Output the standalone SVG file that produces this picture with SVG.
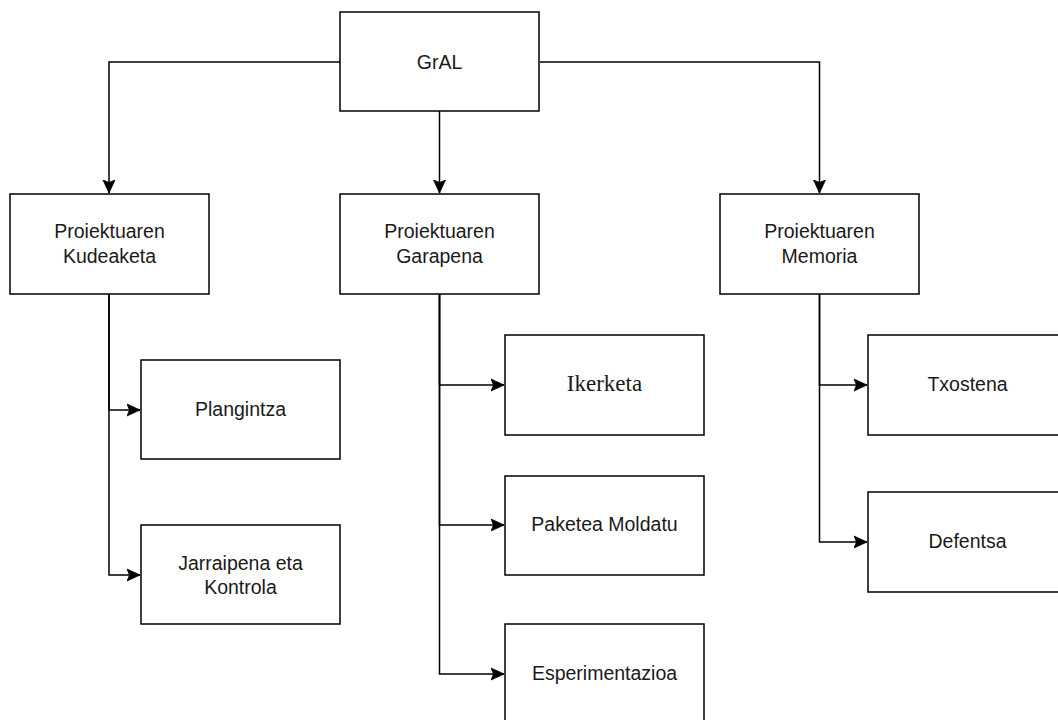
<svg xmlns="http://www.w3.org/2000/svg" width="1058" height="720" viewBox="0 0 1058 720">
<style>
.box{fill:#fff;stroke:#000;stroke-width:1.5}
.t{font-family:"Liberation Sans",Arial,sans-serif;font-size:19.5px;fill:#1a1a1a;text-anchor:middle}
.s{font-family:"Liberation Serif","Times New Roman",serif;font-size:23px;fill:#1a1a1a;text-anchor:middle}
.c{fill:none;stroke:#000;stroke-width:1.5}
</style>
<defs>
<marker id="arr" markerUnits="userSpaceOnUse" markerWidth="14" markerHeight="14" viewBox="0 0 14 14" refX="13" refY="7" orient="auto">
<path d="M0,1 L13,7 L0,13 L2.5,7 Z" fill="#000" stroke="#000" stroke-width="0.8" stroke-linejoin="miter"/>
</marker>
</defs>
<rect width="1058" height="720" fill="#fff"/>
<g id="connectors">
<path class="c" d="M340,62 H109 V193" marker-end="url(#arr)"/>
<path class="c" d="M439.5,111 V193" marker-end="url(#arr)"/>
<path class="c" d="M540,62 H819.5 V193" marker-end="url(#arr)"/>
<path class="c" d="M109,294 V410 H140" marker-end="url(#arr)"/>
<path class="c" d="M109,294 V575 H140" marker-end="url(#arr)"/>
<path class="c" d="M439.5,294 V385 H504" marker-end="url(#arr)"/>
<path class="c" d="M439.5,294 V525 H504" marker-end="url(#arr)"/>
<path class="c" d="M439.5,294 V674 H504" marker-end="url(#arr)"/>
<path class="c" d="M819.5,294 V385 H867" marker-end="url(#arr)"/>
<path class="c" d="M819.5,294 V542 H867" marker-end="url(#arr)"/>
</g>
<g id="n-gral"><rect class="box" x="340" y="12" width="199" height="99"/><text class="t" x="439.5" y="69">GrAL</text></g>
<g id="n-kudeaketa"><rect class="box" x="10" y="194" width="199" height="100"/><text class="t" x="109.5" y="238">Proiektuaren</text><text class="t" x="109.5" y="263">Kudeaketa</text></g>
<g id="n-garapena"><rect class="box" x="340" y="194" width="199" height="100"/><text class="t" x="439.5" y="238">Proiektuaren</text><text class="t" x="439.5" y="263">Garapena</text></g>
<g id="n-memoria"><rect class="box" x="720" y="194" width="199" height="100"/><text class="t" x="819.5" y="238">Proiektuaren</text><text class="t" x="819.5" y="263">Memoria</text></g>
<g id="n-plangintza"><rect class="box" x="141" y="360" width="199" height="99"/><text class="t" x="240.5" y="416">Plangintza</text></g>
<g id="n-jarraipena"><rect class="box" x="141" y="525" width="199" height="99"/><text class="t" x="240.5" y="570">Jarraipena eta</text><text class="t" x="240.5" y="594">Kontrola</text></g>
<g id="n-ikerketa"><rect class="box" x="505" y="335" width="199" height="100"/><text class="s" x="604.5" y="391">Ikerketa</text></g>
<g id="n-paketea"><rect class="box" x="505" y="476" width="199" height="99"/><text class="t" x="604.5" y="531">Paketea Moldatu</text></g>
<g id="n-esperimentazioa"><rect class="box" x="505" y="624" width="199" height="100"/><text class="t" x="604.5" y="680">Esperimentazioa</text></g>
<g id="n-txostena"><rect class="box" x="868" y="335" width="199" height="100"/><text class="t" x="967.5" y="391">Txostena</text></g>
<g id="n-defentsa"><rect class="box" x="868" y="492" width="199" height="100"/><text class="t" x="967.5" y="548">Defentsa</text></g>
</svg>
